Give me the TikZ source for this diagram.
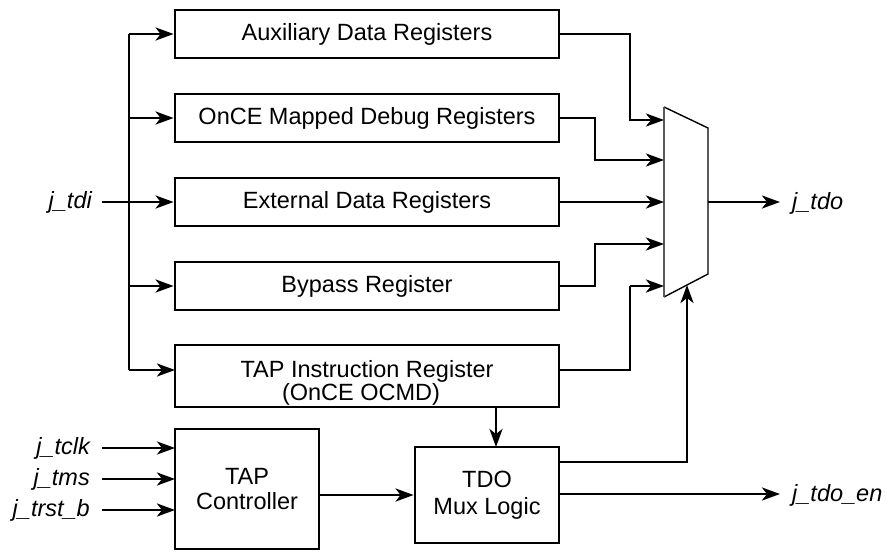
\documentclass[tikz,border=0pt]{standalone}
\usepackage{fontspec}
\setmainfont{Liberation Sans}
\usetikzlibrary{arrows.meta}
\begin{document}
\begin{tikzpicture}[x=1pt,y=-1pt,
  font=\fontsize{23.5}{26}\selectfont,
  wire/.style={line width=2.8pt},
  arr/.style={wire,-{Stealth[length=18pt,width=13pt,inset=5pt]}},
  regbox/.style={draw,line width=2.8pt,rectangle,inner sep=0pt,align=center},
  sig/.style={font=\fontsize{23.5}{26}\selectfont\itshape,inner sep=0pt}]
\useasboundingbox (0,0) rectangle (887,552);
% register boxes
\node[regbox,minimum width=384,minimum height=48] (aux) at (367,34) {Auxiliary Data Registers};
\node[regbox,minimum width=384,minimum height=48] (once) at (367,118) {OnCE Mapped Debug Registers};
\node[regbox,minimum width=384,minimum height=48] (ext) at (367,202) {External Data Registers};
\node[regbox,minimum width=384,minimum height=48] (byp) at (367,286) {Bypass Register};
\node[regbox,minimum width=384,minimum height=62] (tir) at (367,376) {};
\node[inner sep=0pt,anchor=base] (tirA) at (367,377) {TAP Instruction Register};
\node[inner sep=0pt,anchor=base] (tirB) at (361,400) {(OnCE OCMD)};
\node[regbox,minimum width=144,minimum height=120,font=\fontsize{23.5}{25}\selectfont] (tapc) at (247,489) {TAP\\Controller};
\node[regbox,minimum width=144,minimum height=96,font=\fontsize{23.5}{27}\selectfont] (tdo) at (487,495) {TDO\\Mux Logic};
% mux
\coordinate (mtl) at (664,107);
\coordinate (mtr) at (708,128);
\coordinate (mbr) at (708,274);
\coordinate (mbl) at (664,297);
\draw[line width=1.4pt] (mtl) -- (mtr) -- (mbr) -- (mbl);
\draw[line width=1.4pt,black!65] (mbl) -- (mtl);
\coordinate (m1) at (664,120);
\coordinate (m2) at (664,160);
\coordinate (m3) at (664,202);
\coordinate (m4) at (664,244);
\coordinate (m5) at (664,286);
\coordinate (mout) at (708,202);
\coordinate (msel) at (687,285);
% j_tdi bus
\node[sig,anchor=east] (tdi) at (92,202) {j\_tdi};
\coordinate (bus1) at (129,34);
\coordinate (bus5) at (129,370);
\draw[wire] (102,202) -- (129,202);
\draw[wire] (bus1) -- (bus5);
\draw[arr] (bus1) -- (aux.west);
\draw[arr] (129,118) -- (once.west);
\draw[arr] (tdi.east) ++(10,0) -- (ext.west);
\draw[arr] (129,286) -- (byp.west);
\draw[arr] (bus5) -- (175,370);
% to mux
\draw[arr] (aux.east) -- (630,34) -- (630,120) -- (m1);
\draw[arr] (once.east) -- (595,118) -- (595,160) -- (m2);
\draw[arr] (ext.east) -- (m3);
\draw[arr] (byp.east) -- (595,286) -- (595,244) -- (m4);
\draw[wire] (559,370) -- (630,370) -- (630,286);
\draw[arr] (630,286) -- (m5);
% output
\node[sig,anchor=west] (jtdo) at (792,203) {j\_tdo};
\draw[arr] (mout) -- (780,202);
% instruction to tdo logic
\draw[arr] (496,407) -- (496,447);
% tdo logic outputs
\draw[arr] (559,462) -- (687,462) -- (msel);
\node[sig,anchor=west] (jtdoen) at (792,495) {j\_tdo\_en};
\draw[arr] (559,494) -- (780,494);
% tap controller
\draw[arr] (319,495) -- (tdo.west |- 0,495);
\node[sig,anchor=east] (tclk) at (90,448) {j\_tclk};
\node[sig,anchor=east] (tms) at (90,479) {j\_tms};
\node[sig,anchor=east] (trst) at (90,510) {j\_trst\_b};
\draw[arr] (102,448) -- (175,448);
\draw[arr] (102,479) -- (175,479);
\draw[arr] (102,510) -- (175,510);
\end{tikzpicture}
\end{document}
